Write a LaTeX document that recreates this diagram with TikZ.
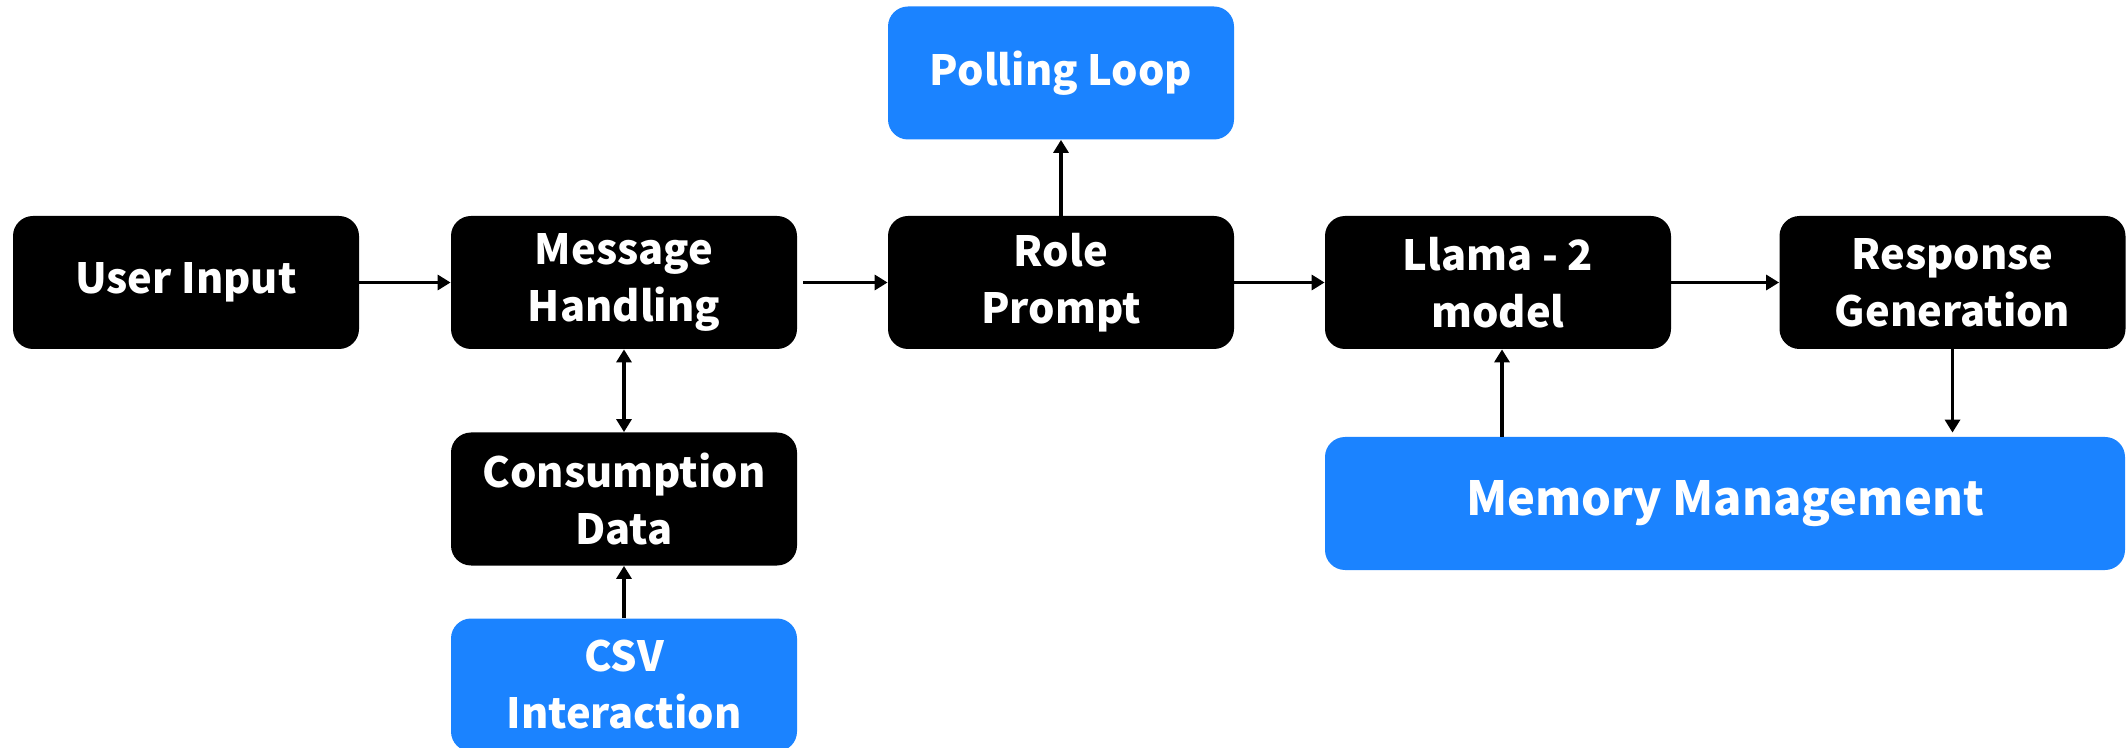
\documentclass[tikz,border=0pt]{standalone}
\usepackage{fontspec}
\setmainfont{Noto Sans CJK KR}
\usetikzlibrary{arrows.meta}
\definecolor{boxblue}{RGB}{27,131,255}
\begin{document}
\begin{tikzpicture}[x=0.5pt,y=-0.5pt,
  base/.style={rounded corners=10pt, inner sep=0pt, minimum width=173pt, minimum height=66.5pt,
    text=white, align=center, font=\fontsize{20.8}{28.5}\selectfont\bfseries},
  blackbox/.style={base, fill=black},
  bluebox/.style={base, fill=boxblue},
  conn/.style={line width=1.6pt, -{Triangle[length=6.5pt,width=7.5pt]}},
  dconn/.style={line width=1.6pt, {Triangle[length=6.5pt,width=7.5pt]}-{Triangle[length=6.5pt,width=7.5pt]}}
]
\useasboundingbox (0,0) rectangle (2126,748);
\node[blackbox] (ui) at (186,282.5) {User Input};
\node[blackbox] (mh) at (624,282.5) {Message\\Handling};
\node[blackbox] (rp) at (1061,282.5) {Role\\Prompt};
\node[blackbox] (ll) at (1498,282.5) {Llama - 2\\model};
\node[blackbox] (rg) at (1952.5,282.5) {Response\\Generation};
\node[bluebox] (pl) at (1061,73) {Polling Loop};
\node[blackbox] (cd) at (624,499) {Consumption\\Data};
\node[bluebox] (csv) at (624,685) {CSV\\Interaction};
\node[bluebox, minimum width=400pt, font=\fontsize{23.5}{28.5}\selectfont\bfseries] (mm) at (1725,503.5) {Memory Management};

\draw[conn] (ui) -- (mh);
\draw[conn, shorten <=3pt] (mh) -- (rp);
\draw[conn] (rp) -- (ll);
\draw[conn] (ll) -- (rg);
\draw[conn] (rp) -- (pl);
\draw[dconn] (mh) -- (cd);
\draw[conn] (csv) -- (cd);
\draw[conn] ([xshift=2pt]ll.south |- mm.north) -- ([xshift=2pt]ll.south);
\draw[conn, shorten >=2pt] (rg.south) -- (rg.south |- mm.north);
\end{tikzpicture}
\end{document}
